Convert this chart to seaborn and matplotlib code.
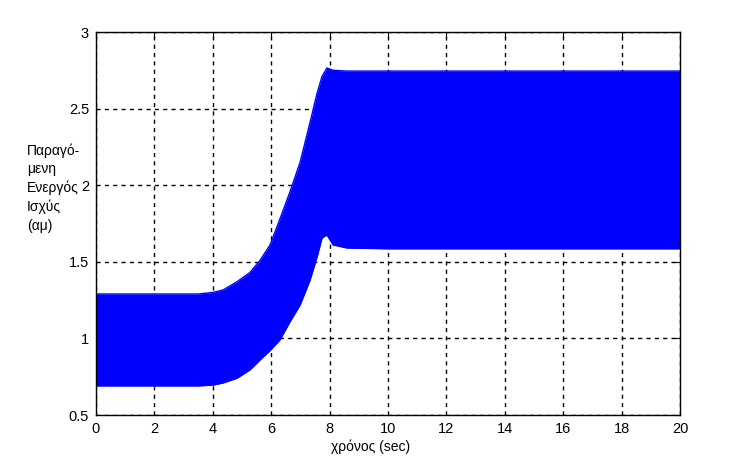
import numpy as np
import pandas as pd
import matplotlib
matplotlib.use("Agg")
import matplotlib.pyplot as plt
import seaborn as sns

# Envelope of the oscillating signal
time_s = [0.0, 2.0, 3.5, 4.0, 4.35, 4.83, 5.27, 5.62, 5.96, 6.30, 6.64, 6.99, 7.33, 7.57, 7.74, 7.91,
          8.12, 8.6, 10.0, 12.0, 14.0, 16.0, 18.0, 20.0]
upper = [1.29, 1.29, 1.29, 1.30, 1.316, 1.37, 1.43, 1.51, 1.61, 1.78, 1.955, 2.15, 2.41, 2.60, 2.71, 2.765,
         2.75, 2.745, 2.745, 2.745, 2.745, 2.745, 2.745, 2.745]
lower = [0.69, 0.69, 0.69, 0.695, 0.709, 0.74, 0.794, 0.86, 0.92, 0.99, 1.107, 1.218, 1.38, 1.53, 1.655, 1.675,
         1.61, 1.59, 1.585, 1.585, 1.585, 1.585, 1.585, 1.585]

x_ticks = [0, 2, 4, 6, 8, 10, 12, 14, 16, 18, 20]
y_ticks = [0.5, 1, 1.5, 2, 2.5, 3]
y_tick_labels = ["0.5", "1", "1.5", "2", "2.5", "3"]
xlabel = "χρόνος (sec)"
ylabel = "Παραγό-\nμενη\nΕνεργός\nΙσχύς\n(αμ)"

sns.set_style("white")
plt.rcParams['font.family'] = ['Liberation Sans', 'DejaVu Sans']
plt.rcParams['text.color'] = 'black'

fig = plt.figure(figsize=(7.47, 4.65), dpi=100)
ax = fig.add_axes([96/747, 1-415/465, (680-96)/747, (415-32)/465])

df = pd.DataFrame({"t": time_s, "upper": upper, "lower": lower})
ax.fill_between(df["t"], df["lower"], df["upper"], color="#0000ff", linewidth=0, zorder=3)
sns.lineplot(data=df, x="t", y="upper", ax=ax, color="#0000ff", linewidth=1.0, zorder=3)
sns.lineplot(data=df, x="t", y="lower", ax=ax, color="#0000ff", linewidth=1.0, zorder=3)

ax.set_xlim(0, 20)
ax.set_ylim(0.5, 3)
ax.set_xticks(x_ticks)
ax.set_xticklabels([str(v) for v in x_ticks])
ax.set_yticks(y_ticks)
ax.set_yticklabels(y_tick_labels)
ax.grid(True, color="black", linestyle=(0, (3, 3)), linewidth=1.0, zorder=1)
ax.set_axisbelow(True)
ax.tick_params(direction="in", length=4, width=0.8, top=True, right=True, labelsize=10.5,
               colors="black", pad=5)
for s in ax.spines.values():
    s.set_visible(True)
    s.set_color("black")
    s.set_linewidth(1.0)
    s.set_zorder(5)

ax.set_xlabel("")
ax.set_ylabel("")
fig.text(371/747, 1-447/465, xlabel, ha="center", va="center", fontsize=10)
fig.text(27/747, 1-188/465, ylabel, ha="left", va="center", fontsize=10, linespacing=1.4)

fig.savefig("out.png", dpi=100)
